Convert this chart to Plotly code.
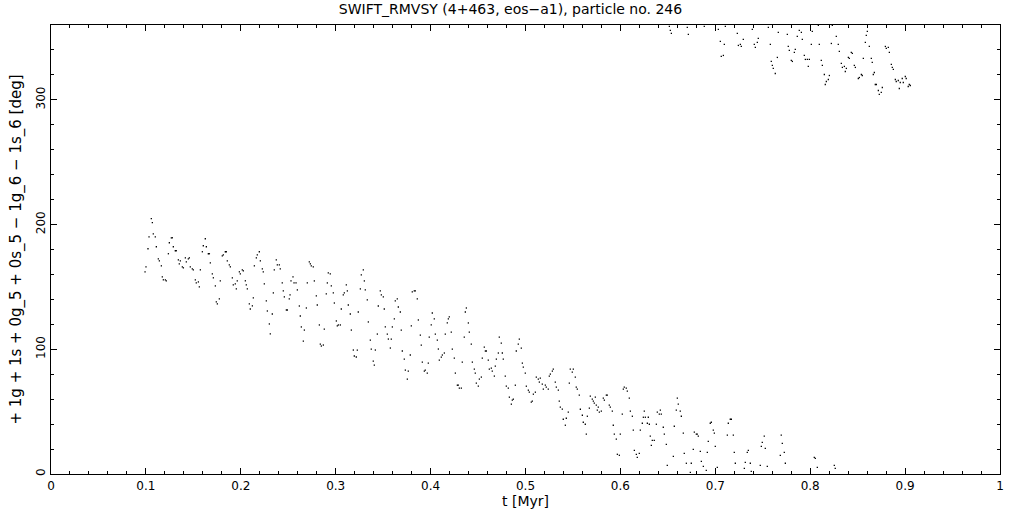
import plotly.graph_objects as go

# Lower branch of the resonant angle (deg) vs time (Myr)
t_low = [
    0.0991, 0.1001, 0.1022, 0.1033, 0.1057, 0.1068, 0.1078, 0.1099, 0.1110, 0.1131,
    0.1142, 0.1163, 0.1173, 0.1184, 0.1205, 0.1215, 0.1237, 0.1247, 0.1268, 0.1279,
    0.1289, 0.1310, 0.1321, 0.1342, 0.1352, 0.1363, 0.1384, 0.1395, 0.1416, 0.1426,
    0.1447, 0.1458, 0.1468, 0.1489, 0.1500, 0.1521, 0.1531, 0.1553, 0.1563, 0.1574,
    0.1595, 0.1605, 0.1626, 0.1637, 0.1658, 0.1669, 0.1679, 0.1700, 0.1711, 0.1732,
    0.1742, 0.1753, 0.1774, 0.1784, 0.1805, 0.1816, 0.1837, 0.1847, 0.1858, 0.1879,
    0.1890, 0.1911, 0.1921, 0.1942, 0.1953, 0.1963, 0.1985, 0.1995, 0.2016, 0.2027,
    0.2048, 0.2058, 0.2069, 0.2090, 0.2100, 0.2122, 0.2132, 0.2143, 0.2164, 0.2174,
    0.2195, 0.2206, 0.2227, 0.2237, 0.2248, 0.2269, 0.2280, 0.2301, 0.2311, 0.2332,
    0.2343, 0.2353, 0.2374, 0.2385, 0.2406, 0.2416, 0.2437, 0.2448, 0.2459, 0.2480,
    0.2490, 0.2511,
    0.2519, 0.2529, 0.2550, 0.2561, 0.2582, 0.2596, 0.2617, 0.2627, 0.2638, 0.2659,
    0.2670, 0.2691, 0.2701, 0.2722, 0.2733, 0.2743, 0.2764, 0.2775, 0.2796, 0.2806,
    0.2828, 0.2838, 0.2849, 0.2870, 0.2880, 0.2901, 0.2912, 0.2922, 0.2943, 0.2954,
    0.2975, 0.2986, 0.3007, 0.3017, 0.3028, 0.3049, 0.3059, 0.3080, 0.3091, 0.3112,
    0.3123, 0.3133, 0.3154, 0.3165, 0.3186, 0.3196, 0.3217, 0.3228, 0.3238, 0.3260,
    0.3270, 0.3291, 0.3302, 0.3312, 0.3333, 0.3344, 0.3365, 0.3375, 0.3396, 0.3407,
    0.3418, 0.3439, 0.3449, 0.3470, 0.3481, 0.3502, 0.3512, 0.3523, 0.3544, 0.3555,
    0.3576, 0.3586, 0.3597, 0.3618, 0.3628, 0.3649, 0.3660, 0.3681, 0.3691, 0.3702,
    0.3723, 0.3734, 0.3755, 0.3765, 0.3786, 0.3797, 0.3807, 0.3828, 0.3839, 0.3860,
    0.3871, 0.3892, 0.3902, 0.3913, 0.3934, 0.3944, 0.3965, 0.3976, 0.3986, 0.4007,
    0.4018, 0.4039,
    0.4050, 0.4071, 0.4082, 0.4092, 0.4113, 0.4124, 0.4145, 0.4155, 0.4176, 0.4187,
    0.4197, 0.4218, 0.4229, 0.4250, 0.4261, 0.4282, 0.4292, 0.4303, 0.4324, 0.4334,
    0.4355, 0.4366, 0.4377, 0.4398, 0.4408, 0.4429, 0.4440, 0.4461, 0.4471, 0.4482,
    0.4503, 0.4514, 0.4535, 0.4545, 0.4566, 0.4577, 0.4587, 0.4608, 0.4619, 0.4640,
    0.4650, 0.4672, 0.4682, 0.4693, 0.4714, 0.4724, 0.4745, 0.4756, 0.4766, 0.4787,
    0.4798, 0.4819, 0.4830, 0.4851, 0.4861, 0.4872, 0.4893, 0.4903, 0.4924, 0.4935,
    0.4956, 0.4967, 0.4977, 0.4998, 0.5009, 0.5030, 0.5040, 0.5061, 0.5072, 0.5083,
    0.5104, 0.5114, 0.5135, 0.5146, 0.5156, 0.5177, 0.5188, 0.5209, 0.5219, 0.5240,
    0.5251, 0.5262, 0.5283, 0.5293, 0.5314, 0.5325, 0.5346, 0.5356, 0.5367, 0.5388,
    0.5398, 0.5420, 0.5430, 0.5451, 0.5462, 0.5472, 0.5493, 0.5504, 0.5525, 0.5535,
    0.5546, 0.5567,
    0.5578, 0.5599, 0.5609, 0.5630, 0.5641, 0.5652, 0.5673, 0.5683, 0.5704, 0.5715,
    0.5725, 0.5736, 0.5746, 0.5757, 0.5767, 0.5778, 0.5799, 0.5820, 0.5831, 0.5852,
    0.5862, 0.5883, 0.5894, 0.5915, 0.5925, 0.5936, 0.5957, 0.5968, 0.5989, 0.5999,
    0.6020, 0.6031, 0.6041, 0.6062, 0.6073, 0.6094, 0.6105, 0.6126, 0.6136, 0.6147,
    0.6168, 0.6178, 0.6199, 0.6210, 0.6231, 0.6242, 0.6252, 0.6263, 0.6284, 0.6294,
    0.6305, 0.6315, 0.6326, 0.6336, 0.6357, 0.6379, 0.6389, 0.6410, 0.6421, 0.6431,
    0.6452, 0.6463, 0.6484, 0.6494, 0.6558, 0.6568, 0.6589, 0.6600, 0.6610, 0.6631,
    0.6642, 0.6663, 0.6673, 0.6695, 0.6737, 0.6747, 0.6768, 0.6779, 0.6800, 0.6810,
    0.6821, 0.6842, 0.6853, 0.6874, 0.6905, 0.6916, 0.6926, 0.6947, 0.6958, 0.6979,
    0.6990, 0.7000, 0.7021, 0.7127, 0.7137, 0.7158, 0.7169, 0.7190, 0.7200, 0.7211,
    0.7306, 0.7316, 0.7337, 0.7348, 0.7369, 0.7379, 0.7474, 0.7485, 0.7495, 0.7516,
    0.7527, 0.7548, 0.7685, 0.7695, 0.7706, 0.7727, 0.7738, 0.8043, 0.8054, 0.8075,
    0.8254, 0.8264,
]
ang_low = [
    162.1, 166.1, 180.6, 190.2, 204.7, 201.5, 192.6, 190.2, 182.2, 172.5,
    170.9, 166.9, 158.1, 155.7, 155.7, 154.9, 176.6, 185.4, 189.4, 189.4,
    182.2, 179.0, 179.0, 171.7, 168.5, 170.9, 166.1, 165.3, 173.3, 170.1,
    172.5, 173.3, 166.1, 164.5, 163.7, 155.7, 153.2, 154.0, 150.0, 163.7,
    178.2, 183.0, 188.6, 182.2, 176.6, 176.6, 169.3, 160.5, 157.3, 150.8,
    138.0, 136.4, 140.4, 154.9, 174.9, 175.7, 178.2, 178.2, 170.9, 167.7,
    166.1, 157.3, 151.6, 152.4, 148.4, 154.9, 162.1, 160.5, 163.7, 162.9,
    154.9, 151.6, 148.4, 136.4, 132.3, 134.8, 141.2, 166.9, 173.3, 175.7,
    178.2, 170.9, 164.5, 162.1, 152.4, 138.8, 130.7, 120.3, 112.3, 128.3,
    145.2, 163.7, 171.7, 167.7, 167.7, 164.5, 153.2, 146.8, 142.0, 131.5,
    131.5, 140.4,
    143.6, 154.8, 158.0, 153.2, 153.2, 147.6, 134.7, 126.7, 117.9, 106.6,
    115.4, 133.1, 153.2, 170.1, 168.5, 166.9, 166.1, 154.8, 142.8, 135.5,
    119.5, 104.2, 102.6, 103.4, 116.2, 144.4, 153.2, 161.3, 160.5, 150.8,
    145.2, 137.1, 122.7, 118.7, 119.5, 119.5, 132.3, 143.6, 145.2, 151.6,
    146.8, 135.5, 128.3, 115.4, 99.4, 94.6, 93.8, 99.4, 129.9, 148.4,
    159.6, 163.7, 154.8, 147.6, 139.6, 121.9, 107.4, 100.2, 90.5, 87.3,
    99.4, 112.2, 134.7, 146.8, 143.6, 142.0, 132.3, 117.9, 112.2, 108.2,
    101.0, 108.2, 117.9, 124.3, 138.8, 140.4, 133.9, 129.9, 115.4, 98.6,
    92.1, 83.3, 76.1, 82.5, 95.4, 118.7, 146.0, 146.8, 146.8, 140.4,
    123.5, 111.4, 103.4, 89.7, 82.5, 83.3, 80.9, 88.9, 109.8, 119.5,
    129.1, 124.3,
    112.2, 107.4, 100.2, 91.3, 93.7, 95.4, 97.0, 112.2, 121.1, 124.3,
    125.9, 113.8, 100.2, 92.9, 80.9, 71.2, 71.2, 68.8, 68.8, 89.7,
    109.8, 129.9, 133.1, 121.1, 113.8, 104.2, 89.7, 84.1, 80.9, 72.9,
    70.4, 76.1, 77.7, 92.9, 101.8, 98.6, 98.6, 91.3, 84.1, 84.9,
    82.5, 78.5, 86.5, 92.1, 97.0, 109.8, 105.0, 97.0, 92.1, 78.5,
    70.4, 68.8, 61.6, 56.0, 59.2, 60.0, 71.2, 98.6, 104.2, 108.2,
    101.0, 88.9, 85.7, 80.9, 70.4, 67.2, 65.6, 57.6, 58.4, 64.0,
    65.6, 77.7, 76.1, 73.7, 76.9, 72.1, 68.0, 71.2, 69.6, 68.0,
    78.5, 80.1, 82.5, 84.1, 73.7, 69.6, 67.2, 58.4, 53.6, 52.0,
    43.9, 39.1, 44.7, 49.6, 72.9, 84.1, 81.7, 84.1, 77.7, 69.6,
    68.0, 63.2,
    51.9, 47.1, 41.5, 39.9, 31.9, 46.3, 52.8, 62.4, 60.0, 58.4,
    56.8, 61.6, 55.2, 51.2, 53.6, 49.6, 50.4, 60.8, 59.2, 63.2,
    63.2, 55.2, 53.6, 50.4, 39.1, 31.9, 27.9, 15.8, 15.0, 31.9,
    48.0, 68.0, 69.6, 68.8, 66.4, 60.8, 50.4, 46.3, 35.1, 19.0,
    15.8, 13.4, 16.6, 35.1, 40.7, 45.5, 50.4, 45.5, 40.7, 45.5,
    39.9, 30.3, 23.0, 27.0, 27.0, 39.9, 49.6, 48.0, 51.2, 48.0,
    37.5, 31.9, 23.8, 6.9, 14.2, 38.3, 51.2, 60.8, 56.0, 50.4,
    46.3, 32.7, 16.6, 8.6, 1.3, 8.6, 19.8, 33.5, 31.9, 31.9,
    30.3, 18.2, 10.2, 6.1, 2.9, 17.4, 26.2, 40.7, 41.5, 35.1,
    32.7, 22.2, 5.3, 31.1, 40.7, 43.9, 43.9, 31.1, 17.4, 8.6,
    4.5, 9.4, 17.4, 19.0, 8.6, 2.1, 6.9, 22.2, 25.4, 30.3,
    20.6, 6.1, 15.0, 31.1, 24.6, 17.4, 8.6, 13.4, 12.6, 5.3,
    6.9, 4.5,
]

# Upper branch (after wrapping through 0 -> 360 deg)
t_up = [
    0.6516, 0.6526, 0.6537, 0.6705, 0.6716, 0.6884, 0.7032, 0.7053, 0.7063, 0.7085,
    0.7095, 0.7106, 0.7232, 0.7243, 0.7264, 0.7274, 0.7295, 0.7390, 0.7411, 0.7422,
    0.7443, 0.7453, 0.7559, 0.7580, 0.7590, 0.7601, 0.7611, 0.7632, 0.7654, 0.7664,
    0.7759, 0.7769, 0.7780, 0.7801, 0.7812, 0.7833, 0.7843, 0.7864, 0.7885,
    0.7907, 0.7917, 0.7938, 0.7949, 0.7970, 0.7980, 0.7991, 0.8012, 0.8022, 0.8086,
    0.8096, 0.8117, 0.8128, 0.8149, 0.8159, 0.8170, 0.8191, 0.8202, 0.8223, 0.8233,
    0.8275, 0.8296, 0.8307, 0.8328, 0.8339, 0.8360, 0.8370, 0.8381, 0.8402, 0.8412,
    0.8433, 0.8444, 0.8465, 0.8476, 0.8507, 0.8518, 0.8539, 0.8549, 0.8560, 0.8581,
    0.8591, 0.8602, 0.8623, 0.8644, 0.8654, 0.8665, 0.8676, 0.8686, 0.8697, 0.8718,
    0.8728, 0.8749, 0.8760, 0.8792, 0.8802, 0.8823, 0.8834, 0.8855, 0.8865, 0.8876,
    0.8897, 0.8907, 0.8928, 0.8939, 0.8949, 0.8970, 0.8981, 0.9002, 0.9012, 0.9033,
    0.9044, 0.9055,
]
ang_up = [
    358.9, 355.7, 353.3, 358.1, 352.5, 358.9, 356.5, 346.9, 334.8, 335.6,
    344.4, 358.9, 353.3, 343.6, 344.4, 342.8, 348.5, 356.5, 344.4, 342.0,
    346.1, 349.3, 358.1, 344.4, 330.8, 327.6, 325.2, 321.1, 334.0, 354.1,
    352.5, 342.8, 339.6, 331.6, 330.8, 338.0, 340.4, 350.9, 355.7,
    354.1, 348.5, 335.6, 332.4, 332.4, 326.8, 332.4, 344.4, 354.9, 359.7,
    344.4, 331.6, 327.6, 320.3, 312.3, 314.7, 316.3, 319.5, 345.2, 359.7,
    350.9, 344.4, 338.8, 329.2, 326.0, 326.8, 322.7, 325.2, 334.0, 333.2,
    338.0, 337.2, 327.6, 326.0, 317.1, 317.9, 320.3, 319.5, 333.2, 346.1,
    351.7, 354.9, 342.8, 333.2, 330.0, 320.3, 321.9, 312.3, 312.3, 307.5,
    304.3, 305.9, 309.9, 342.8, 341.2, 342.0, 338.0, 328.4, 326.0, 324.4,
    316.3, 314.7, 315.5, 309.1, 313.9, 317.1, 313.9, 318.7, 317.1, 310.7,
    312.3, 311.5,
]

x_ticks = [0, 0.1, 0.2, 0.3, 0.4, 0.5, 0.6, 0.7, 0.8, 0.9, 1]
x_labels = ["0", "0.1", "0.2", "0.3", "0.4", "0.5", "0.6", "0.7", "0.8", "0.9", "1"]
y_ticks = [0, 100, 200, 300]
y_labels = ["0", "100", "200", "300"]

FONT = "DejaVu Sans"

fig = go.Figure()
fig.add_trace(go.Scatter(
    x=t_low + t_up, y=ang_low + ang_up, mode="markers",
    marker=dict(symbol="square", size=1.3, color="black", line=dict(width=0)),
    showlegend=False, hoverinfo="skip",
))

axis_common = dict(
    showgrid=False, zeroline=False, showline=True, linecolor="black", linewidth=1.3,
    mirror="ticks", ticks="inside", tickcolor="black", tickwidth=1, automargin=False,
    tickfont=dict(family=FONT, size=12, color="black"),
)

fig.update_xaxes(
    range=[0, 1], tickvals=x_ticks, ticktext=x_labels, ticklen=6,
    minor=dict(ticks="inside", ticklen=3, dtick=0.02, tick0=0, tickcolor="black"),
    title=dict(text="t [Myr]", font=dict(family=FONT, size=14, color="black"), standoff=3),
    **axis_common,
)
fig.update_yaxes(
    range=[0, 360], tickvals=y_ticks, ticktext=y_labels, ticklen=6, tickangle=-90,
    minor=dict(ticks="inside", ticklen=3, dtick=20, tick0=0, tickcolor="black"),
    title=dict(text="+ 1g + 1s + 0g_5 + 0s_5 \u2212 1g_6 \u2212 1s_6 [deg]",
               font=dict(family=FONT, size=15, color="black"), standoff=8),
    **axis_common,
)

fig.update_layout(
    width=1021, height=511,
    margin=dict(l=51, r=21, t=25, b=37, pad=0),
    paper_bgcolor="white", plot_bgcolor="white",
    title=dict(text="SWIFT_RMVSY (4+463, eos\u2212a1), particle no. 246",
               font=dict(family=FONT, size=14, color="black"),
               x=0.5, xanchor="center", y=0.982, yanchor="middle"),
)

fig.write_html(
    "out.html",
    config={"displayModeBar": False, "staticPlot": True},
    post_script="document.body.style.margin='0';document.body.style.overflow='hidden';",
)
